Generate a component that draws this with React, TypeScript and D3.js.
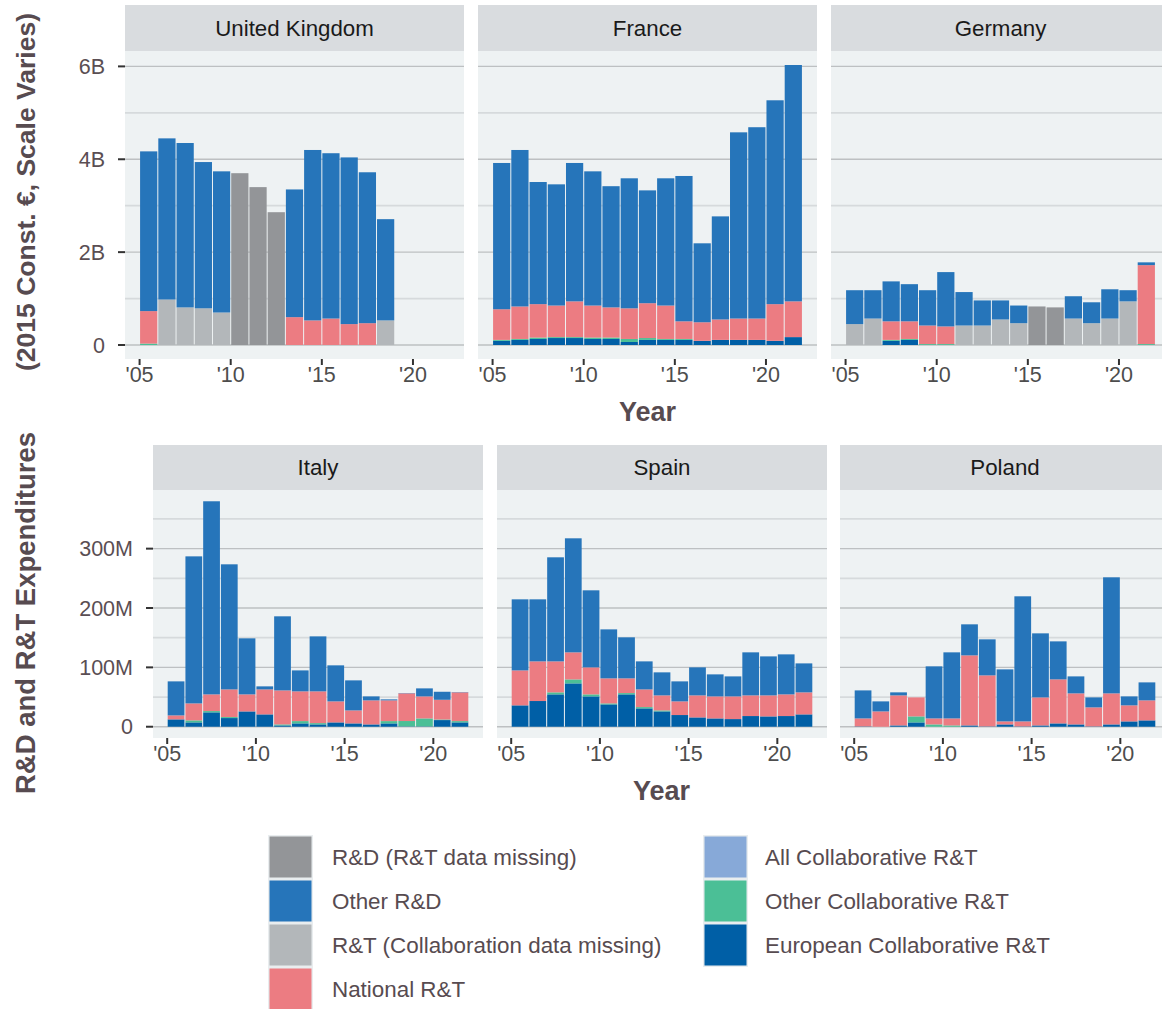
import * as d3 from "d3";

// ---- data (2015 const. €; top row in billions, bottom row in millions) ----
const ukYears = [2005, 2006, 2007, 2008, 2009, 2010, 2011, 2012, 2013, 2014, 2015, 2016, 2017, 2018];
const ukOtherCollab = [0.03, 0, 0, 0, 0, 0, 0, 0, 0, 0, 0, 0, 0, 0];
const ukNational = [0.7, 0, 0, 0, 0, 0, 0, 0, 0.6, 0.53, 0.57, 0.45, 0.47, 0];
const ukRtMissing = [0, 0.98, 0.81, 0.79, 0.7, 0, 0, 0, 0, 0, 0, 0, 0, 0.53];
const ukOtherRD = [3.44, 3.47, 3.54, 3.15, 3.04, 0, 0, 0, 2.75, 3.67, 3.56, 3.59, 3.25, 2.18];
const ukRdMissing = [0, 0, 0, 0, 0, 3.7, 3.4, 2.86, 0, 0, 0, 0, 0, 0];

const years17 = [2005, 2006, 2007, 2008, 2009, 2010, 2011, 2012, 2013, 2014, 2015, 2016, 2017, 2018, 2019, 2020, 2021];

const frEuropean = [0.09, 0.11, 0.13, 0.15, 0.15, 0.13, 0.13, 0.065, 0.11, 0.11, 0.11, 0.09, 0.11, 0.11, 0.11, 0.09, 0.17];
const frOtherCollab = [0.02, 0.02, 0.03, 0.02, 0.02, 0.03, 0.03, 0.065, 0.04, 0.02, 0.02, 0, 0, 0, 0, 0, 0];
const frNational = [0.66, 0.7, 0.72, 0.68, 0.77, 0.69, 0.65, 0.66, 0.75, 0.72, 0.38, 0.4, 0.44, 0.46, 0.46, 0.79, 0.77];
const frOtherRD = [3.15, 3.37, 2.63, 2.61, 2.98, 2.89, 2.61, 2.8, 2.43, 2.74, 3.13, 1.7, 2.22, 4.01, 4.12, 4.39, 5.09];

const deEuropean = [0, 0, 0.09, 0.11, 0, 0, 0, 0, 0, 0, 0, 0, 0, 0, 0, 0, 0];
const deOtherCollab = [0, 0, 0.02, 0.02, 0.02, 0.02, 0, 0, 0, 0, 0, 0, 0, 0, 0, 0, 0.02];
const deNational = [0, 0, 0.4, 0.38, 0.4, 0.38, 0, 0, 0, 0, 0, 0, 0, 0, 0, 0, 1.7];
const deRtMissing = [0.45, 0.57, 0, 0, 0, 0, 0.42, 0.42, 0.55, 0.47, 0, 0, 0.57, 0.47, 0.57, 0.94, 0];
const deOtherRD = [0.73, 0.61, 0.86, 0.8, 0.76, 1.17, 0.72, 0.54, 0.41, 0.38, 0, 0, 0.48, 0.45, 0.63, 0.24, 0.06];
const deRdMissing = [0, 0, 0, 0, 0, 0, 0, 0, 0, 0, 0.83, 0.81, 0, 0, 0, 0, 0];

const itEuropean = [12.4, 7.3, 24.2, 14.6, 25.8, 20.8, 2.2, 5.6, 3.9, 7.3, 5.6, 3.9, 5.6, 0.6, 0.6, 11.2, 7.3];
const itOtherCollab = [0, 3.4, 2.2, 1.7, 0, 0, 1.7, 3.9, 2.2, 0, 0, 0, 3.9, 9.0, 13.4, 1.0, 2.2];
const itNational = [6.7, 28.6, 28.1, 46.6, 28.7, 42.1, 57.3, 50.1, 53.5, 35.4, 21.9, 40.5, 34.9, 46.6, 37.1, 33.2, 48.4];
const itOtherRD = [57.3, 247.7, 325.3, 210.7, 94.4, 5.1, 124.8, 35.3, 92.6, 60.7, 50.6, 6.7, 1.7, 0.5, 13.5, 13.5, 0.5];

const esEuropean = [36, 43.3, 54.5, 73, 51.1, 37.6, 54.5, 30.9, 25.8, 19.7, 15.7, 14, 12.9, 18, 17.4, 18, 20.8];
const esOtherCollab = [0, 0, 3.4, 6.7, 3.4, 1.7, 2.2, 2.2, 1.7, 0, 0, 0, 0, 0, 0, 0, 0];
const esNational = [58.9, 66.8, 52.2, 45.6, 45.5, 42.2, 24.8, 29.8, 25.3, 23, 37.1, 37.1, 38.2, 34.8, 35.4, 36.5, 37.1];
const esOtherRD = [119.7, 104.5, 175.3, 192.1, 129.8, 82.5, 69.1, 47.2, 38.8, 33.7, 47.2, 37.1, 33.7, 72.5, 65.7, 67.4, 48.8];

const plEuropean = [0.6, 0, 2.2, 7.3, 0, 0, 2.2, 0.6, 3.9, 0.6, 2.2, 5.6, 3.9, 0.6, 3.9, 9.0, 10.7];
const plOtherCollab = [0, 0, 0, 10.1, 3.9, 2.2, 0, 0, 0, 0, 0, 0, 0, 0, 0, 0, 0];
const plNational = [13.4, 25.8, 50.6, 32.0, 10.1, 11.8, 118, 85.9, 5.1, 8.4, 47.2, 74.2, 52.3, 32.0, 52.3, 27, 33.7];
const plOtherRD = [47.2, 16.9, 5.1, 0, 87.7, 111.3, 52.3, 60.7, 87.6, 210.7, 107.9, 64.0, 28.6, 16.8, 195.5, 15.1, 30.3];

const topTicks = [0, 2, 4, 6];
const topTickLabels = ["0", "2B", "4B", "6B"];
const bottomTicks = [0, 100, 200, 300];
const bottomTickLabels = ["0", "100M", "200M", "300M"];
const xTicks = [2005, 2010, 2015, 2020];
const xTickLabels = ["'05", "'10", "'15", "'20"];

// stack order, bottom to top
const keys = ["european", "otherCollab", "allCollab", "national", "rtMissing", "otherRD", "rdMissing"];
const colors: Record<string, string> = {
  rdMissing: "#939598",
  otherRD: "#2675BA",
  rtMissing: "#B3B7BA",
  national: "#EC7C82",
  allCollab: "#87A9D8",
  otherCollab: "#4BBF96",
  european: "#005FA6",
};
const legendCol1 = [
  ["rdMissing", "R&D (R&T data missing)"],
  ["otherRD", "Other R&D"],
  ["rtMissing", "R&T (Collaboration data missing)"],
  ["national", "National R&T"],
];
const legendCol2 = [
  ["allCollab", "All Collaborative R&T"],
  ["otherCollab", "Other Collaborative R&T"],
  ["european", "European Collaborative R&T"],
];

function buildRows(years: number[], s: Record<string, number[]>) {
  return years.map((year, i) => {
    const row: any = { year };
    keys.forEach((k) => (row[k] = s[k] ? s[k][i] : 0));
    return row;
  });
}

const topRow = [
  { name: "United Kingdom", rows: buildRows(ukYears, { otherCollab: ukOtherCollab, national: ukNational, rtMissing: ukRtMissing, otherRD: ukOtherRD, rdMissing: ukRdMissing }) },
  { name: "France", rows: buildRows(years17, { european: frEuropean, otherCollab: frOtherCollab, national: frNational, otherRD: frOtherRD }) },
  { name: "Germany", rows: buildRows(years17, { european: deEuropean, otherCollab: deOtherCollab, national: deNational, rtMissing: deRtMissing, otherRD: deOtherRD, rdMissing: deRdMissing }) },
];
const bottomRow = [
  { name: "Italy", rows: buildRows(years17, { european: itEuropean, otherCollab: itOtherCollab, national: itNational, otherRD: itOtherRD }) },
  { name: "Spain", rows: buildRows(years17, { european: esEuropean, otherCollab: esOtherCollab, national: esNational, otherRD: esOtherRD }) },
  { name: "Poland", rows: buildRows(years17, { european: plEuropean, otherCollab: plOtherCollab, national: plNational, otherRD: plOtherRD }) },
];

const FONT = "'Liberation Sans', Arial, Helvetica, sans-serif";
const TITLE_COLOR = "#574B50";
const PANEL_BG = "#EEF2F3";
const STRIP_BG = "#D9DCDF";

interface RowLayout {
  lefts: number[];
  width: number;
  stripTop: number;
  top: number;
  bottom: number;
  ticks: number[];
  tickLabels: string[];
}

function FacetRow({ panels, layout }: { panels: typeof topRow; layout: RowLayout }) {
  const stack = d3.stack<any>().keys(keys);
  const maxTotal = d3.max(panels, (p) => d3.max(p.rows, (r: any) => d3.sum(keys, (k) => r[k]))) || 1;
  const y = d3
    .scaleLinear()
    .domain([-0.05 * maxTotal, 1.05 * maxTotal])
    .range([layout.bottom, layout.top]);
  const step = layout.ticks[1] - layout.ticks[0];
  const minor = layout.ticks.map((t) => t + step / 2).filter((v) => y(v) > layout.top);

  return (
    <g>
      {panels.map((p, pi) => {
        const x0 = layout.lefts[pi];
        const x = d3.scaleLinear().domain([2004.2, 2022.8]).range([x0, x0 + layout.width]);
        const series = stack(p.rows);
        return (
          <g key={p.name}>
            <rect x={x0} y={layout.stripTop} width={layout.width} height={layout.top - layout.stripTop} fill={STRIP_BG} />
            <text
              x={x0 + layout.width / 2}
              y={(layout.stripTop + layout.top) / 2}
              dy="0.35em"
              textAnchor="middle"
              fontSize={22.3}
              fill="#1A1A1A"
            >
              {p.name}
            </text>
            <rect x={x0} y={layout.top} width={layout.width} height={layout.bottom - layout.top} fill={PANEL_BG} />
            {minor.map((v) => (
              <line key={"mn" + v} x1={x0} x2={x0 + layout.width} y1={y(v)} y2={y(v)} stroke="#D6DADC" strokeWidth={1.8} />
            ))}
            {layout.ticks.map((v) => (
              <line key={"mj" + v} x1={x0} x2={x0 + layout.width} y1={y(v)} y2={y(v)} stroke="#BDC0C2" strokeWidth={1.3} />
            ))}
            {series.map((s) => (
              <g key={s.key} fill={colors[s.key]}>
                {s.map((d: any, i: number) =>
                  d[1] - d[0] > 0 ? (
                    <rect
                      key={i}
                      x={x(d.data.year) + 0.5}
                      width={x(d.data.year + 1) - x(d.data.year) - 1}
                      y={y(d[1])}
                      height={y(d[0]) - y(d[1])}
                    />
                  ) : null
                )}
              </g>
            ))}
            {xTicks.map((t, i) => (
              <g key={t}>
                <line x1={x(t)} x2={x(t)} y1={layout.bottom} y2={layout.bottom + 6} stroke="#333" strokeWidth={2} />
                <text x={x(t)} y={layout.bottom + 23} textAnchor="middle" fontSize={21.5} fill="#4D4D4D">
                  {xTickLabels[i]}
                </text>
              </g>
            ))}
            {pi === 0 &&
              layout.ticks.map((t, i) => (
                <g key={"yt" + t}>
                  <line x1={x0 - 7} x2={x0} y1={y(t)} y2={y(t)} stroke="#333" strokeWidth={2} />
                  <text x={x0 - 20} y={y(t)} dy="0.35em" textAnchor="end" fontSize={21.5} fill="#5A4E53">
                    {layout.tickLabels[i]}
                  </text>
                </g>
              ))}
          </g>
        );
      })}
      <text
        x={(layout.lefts[0] + layout.lefts[2] + layout.width) / 2}
        y={layout.bottom + 62}
        textAnchor="middle"
        fontSize={27}
        fontWeight="bold"
        fill={TITLE_COLOR}
      >
        Year
      </text>
    </g>
  );
}

function LegendColumn({ items, x, textX }: { items: string[][]; x: number; textX: number }) {
  return (
    <g>
      {items.map(([k, label], i) => {
        const yTop = 835 + i * 44;
        return (
          <g key={k}>
            <rect x={x} y={yTop} width={45} height={44} fill="#E9EDEF" />
            <rect x={x + 1.5} y={yTop + 1.5} width={42} height={41} fill={colors[k]} />
            <text x={textX} y={yTop + 22} dy="0.35em" fontSize={22.4} fill={TITLE_COLOR}>
              {label}
            </text>
          </g>
        );
      })}
    </g>
  );
}

export default function App() {
  const topLayout: RowLayout = {
    lefts: [125, 478, 831],
    width: 339,
    stripTop: 5,
    top: 51,
    bottom: 359,
    ticks: topTicks,
    tickLabels: topTickLabels,
  };
  const bottomLayout: RowLayout = {
    lefts: [153, 497, 840],
    width: 330,
    stripTop: 445,
    top: 490,
    bottom: 738,
    ticks: bottomTicks,
    tickLabels: bottomTickLabels,
  };

  return (
    <svg
      width={1162}
      height={1009}
      style={{ position: "absolute", left: 0, top: 0, background: "#fff" }}
      fontFamily={FONT}
    >
      <rect width={1162} height={1009} fill="#fff" />
      <FacetRow panels={topRow} layout={topLayout} />
      <FacetRow panels={bottomRow} layout={bottomLayout} />
      <text transform="translate(35,613) rotate(-90)" textAnchor="middle" fontSize={27.5} fontWeight="bold" fill={TITLE_COLOR}>
        R&amp;D and R&amp;T Expenditures
      </text>
      <text transform="translate(35,192) rotate(-90)" textAnchor="middle" fontSize={26.5} fontWeight="bold" fill={TITLE_COLOR}>
        (2015 Const. €, Scale Varies)
      </text>
      <LegendColumn items={legendCol1} x={268} textX={332} />
      <LegendColumn items={legendCol2} x={703} textX={765} />
    </svg>
  );
}
